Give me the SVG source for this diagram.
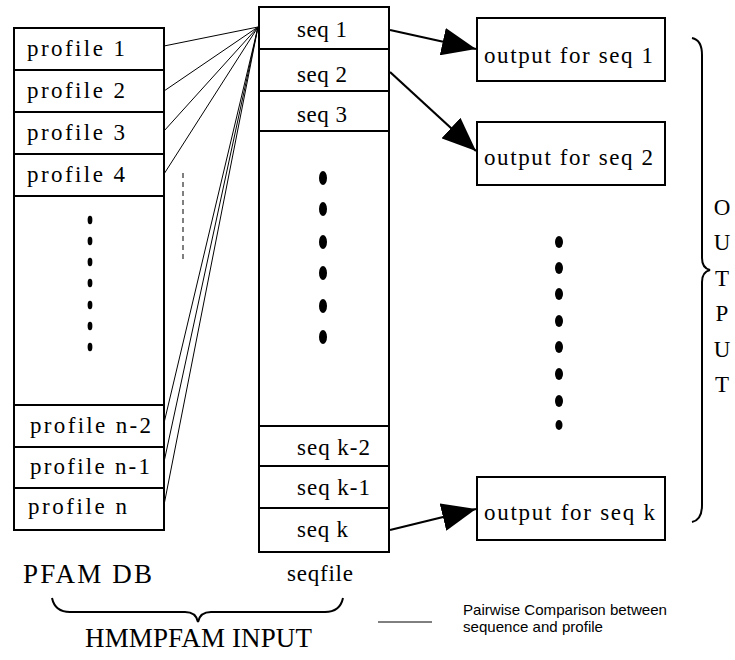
<svg xmlns="http://www.w3.org/2000/svg" width="735" height="660" viewBox="0 0 735 660">
  <style>
    .box { fill: #fff; stroke: #000; stroke-width: 2; }
    .div { stroke: #000; stroke-width: 2; }
    .lbl { font-family: "Liberation Serif", "Times New Roman", serif; font-size: 23px; fill: #000; }
    .big { font-family: "Liberation Serif", "Times New Roman", serif; font-size: 27px; fill: #000; }
    .legend { font-family: "Liberation Sans", Arial, sans-serif; font-size: 15px; fill: #000; }
    .cmp { stroke: #000; stroke-width: 1; fill: none; }
    .arr { stroke: #000; stroke-width: 2.2; fill: none; marker-end: url(#head); }
    .brace { stroke: #000; stroke-width: 2; fill: none; }
    .dot { fill: #000; }
  </style>
  <defs>
    <marker id="head" markerUnits="userSpaceOnUse" markerWidth="36" markerHeight="28" refX="34" refY="14" orient="auto">
      <path d="M0,0 L34,14 L0,28 z" fill="#000"/>
    </marker>
  </defs>
  <rect width="735" height="660" fill="#fff"/>

  <!-- PFAM DB column -->
  <g id="pfam-db">
    <rect class="box" x="14" y="28" width="150" height="502"/>
    <line class="div" x1="14" y1="70" x2="164" y2="70"/>
    <line class="div" x1="14" y1="112" x2="164" y2="112"/>
    <line class="div" x1="14" y1="154" x2="164" y2="154"/>
    <line class="div" x1="14" y1="196" x2="164" y2="196"/>
    <line class="div" x1="14" y1="405" x2="164" y2="405"/>
    <line class="div" x1="14" y1="447" x2="164" y2="447"/>
    <line class="div" x1="14" y1="488" x2="164" y2="488"/>
    <text class="lbl" x="27" y="56" textLength="98" lengthAdjust="spacing">profile  1</text>
    <text class="lbl" x="27" y="98" textLength="98" lengthAdjust="spacing">profile  2</text>
    <text class="lbl" x="27" y="140" textLength="98" lengthAdjust="spacing">profile  3</text>
    <text class="lbl" x="27" y="182" textLength="98" lengthAdjust="spacing">profile  4</text>
    <text class="lbl" x="30" y="433" textLength="121" lengthAdjust="spacing">profile  n-2</text>
    <text class="lbl" x="30" y="474" textLength="120" lengthAdjust="spacing">profile  n-1</text>
    <text class="lbl" x="28" y="514" textLength="99" lengthAdjust="spacing">profile  n</text>
    <ellipse class="dot" cx="90" cy="220" rx="2.4" ry="4.2"/>
    <ellipse class="dot" cx="90" cy="241" rx="2.4" ry="4.2"/>
    <ellipse class="dot" cx="90" cy="262" rx="2.4" ry="4.2"/>
    <ellipse class="dot" cx="90" cy="283" rx="2.4" ry="4.2"/>
    <ellipse class="dot" cx="90" cy="305" rx="2.4" ry="4.2"/>
    <ellipse class="dot" cx="90" cy="326" rx="2.4" ry="4.2"/>
    <ellipse class="dot" cx="90" cy="347" rx="2.4" ry="4.2"/>
    <text class="big" x="23" y="583" textLength="129" lengthAdjust="spacing">PFAM DB</text>
  </g>

  <!-- seqfile column -->
  <g id="seqfile">
    <rect class="box" x="259" y="7" width="130" height="545"/>
    <line class="div" x1="259" y1="49" x2="389" y2="49"/>
    <line class="div" x1="259" y1="91" x2="389" y2="91"/>
    <line class="div" x1="259" y1="131" x2="389" y2="131"/>
    <line class="div" x1="259" y1="426" x2="389" y2="426"/>
    <line class="div" x1="259" y1="466" x2="389" y2="466"/>
    <line class="div" x1="259" y1="508" x2="389" y2="508"/>
    <text class="lbl" x="297" y="37" textLength="50" lengthAdjust="spacing">seq 1</text>
    <text class="lbl" x="297" y="82" textLength="50" lengthAdjust="spacing">seq 2</text>
    <text class="lbl" x="297" y="122" textLength="50" lengthAdjust="spacing">seq 3</text>
    <text class="lbl" x="297" y="455" textLength="73" lengthAdjust="spacing">seq k-2</text>
    <text class="lbl" x="297" y="495" textLength="73" lengthAdjust="spacing">seq k-1</text>
    <text class="lbl" x="297" y="537" textLength="51" lengthAdjust="spacing">seq k</text>
    <ellipse class="dot" cx="323" cy="178" rx="4" ry="7"/>
    <ellipse class="dot" cx="323" cy="209" rx="4" ry="7"/>
    <ellipse class="dot" cx="323" cy="242" rx="4" ry="7"/>
    <ellipse class="dot" cx="323" cy="273" rx="4" ry="7"/>
    <ellipse class="dot" cx="323" cy="306" rx="4" ry="7"/>
    <ellipse class="dot" cx="323" cy="337" rx="4" ry="7"/>
    <text class="lbl" x="287" y="581" font-size="24" textLength="66" lengthAdjust="spacing">seqfile</text>
  </g>

  <!-- output boxes -->
  <g id="out-1">
    <rect class="box" x="477" y="18" width="188" height="63"/>
    <text class="lbl" x="484" y="63" textLength="169" lengthAdjust="spacing">output for seq 1</text>
  </g>
  <g id="out-2">
    <rect class="box" x="477" y="122" width="188" height="63"/>
    <text class="lbl" x="484" y="165" textLength="169" lengthAdjust="spacing">output for seq 2</text>
  </g>
  <g id="out-k">
    <rect class="box" x="477" y="477" width="188" height="63"/>
    <text class="lbl" x="484" y="520" textLength="171" lengthAdjust="spacing">output for seq k</text>
  </g>
  <g id="out-dots">
    <ellipse class="dot" cx="559" cy="242" rx="4" ry="6"/>
    <ellipse class="dot" cx="559" cy="268" rx="4" ry="6"/>
    <ellipse class="dot" cx="559" cy="294" rx="4" ry="6"/>
    <ellipse class="dot" cx="559" cy="321" rx="4" ry="6"/>
    <ellipse class="dot" cx="559" cy="347" rx="4" ry="6"/>
    <ellipse class="dot" cx="559" cy="374" rx="4" ry="6"/>
    <ellipse class="dot" cx="559" cy="401" rx="4" ry="6"/>
    <ellipse class="dot" cx="559" cy="425" rx="3.5" ry="5"/>
  </g>

  <!-- connectors -->
  <g id="connectors">
    <line class="cmp" x1="164" y1="46" x2="258" y2="27"/>
    <line class="cmp" x1="164" y1="91" x2="258" y2="27"/>
    <line class="cmp" x1="164" y1="131" x2="258" y2="27"/>
    <line class="cmp" x1="164" y1="174" x2="258" y2="27"/>
    <line class="cmp" x1="164" y1="423" x2="258" y2="27"/>
    <line class="cmp" x1="164" y1="462" x2="258" y2="27"/>
    <line class="cmp" x1="164" y1="505" x2="258" y2="27"/>
    <line class="cmp" x1="183" y1="173" x2="183" y2="263" stroke-dasharray="5,4"/>
    <line class="arr" x1="390" y1="30" x2="476" y2="49"/>
    <line class="arr" x1="390" y1="72" x2="476" y2="151"/>
    <line class="arr" x1="390" y1="530" x2="476" y2="509"/>
  </g>

  <!-- braces and captions -->
  <g id="output-brace">
    <path class="brace" d="M692,38 Q702,40 702,55 L702,258 Q702,268 710,270 Q702,272 702,282 L702,505 Q702,520 692,522"/>
    <g class="lbl" text-anchor="middle" font-size="24">
      <text x="722" y="215">O</text>
      <text x="722" y="250">U</text>
      <text x="722" y="286">T</text>
      <text x="722" y="321">P</text>
      <text x="722" y="357">U</text>
      <text x="722" y="392">T</text>
    </g>
  </g>
  <g id="input-brace">
    <path class="brace" d="M52,598 Q55,612 70,612 L185,612 Q196,612 198,622 Q200,612 211,612 L325,612 Q340,612 343,598"/>
    <text class="big" x="85" y="647" font-size="26" textLength="227" lengthAdjust="spacing">HMMPFAM INPUT</text>
  </g>

  <!-- legend -->
  <g id="legend">
    <line class="cmp" x1="378" y1="622" x2="432" y2="622"/>
    <text class="legend" x="463" y="615" textLength="204" lengthAdjust="spacingAndGlyphs">Pairwise Comparison between</text>
    <text class="legend" x="463" y="632" textLength="140" lengthAdjust="spacingAndGlyphs">sequence and profile</text>
  </g>
</svg>
